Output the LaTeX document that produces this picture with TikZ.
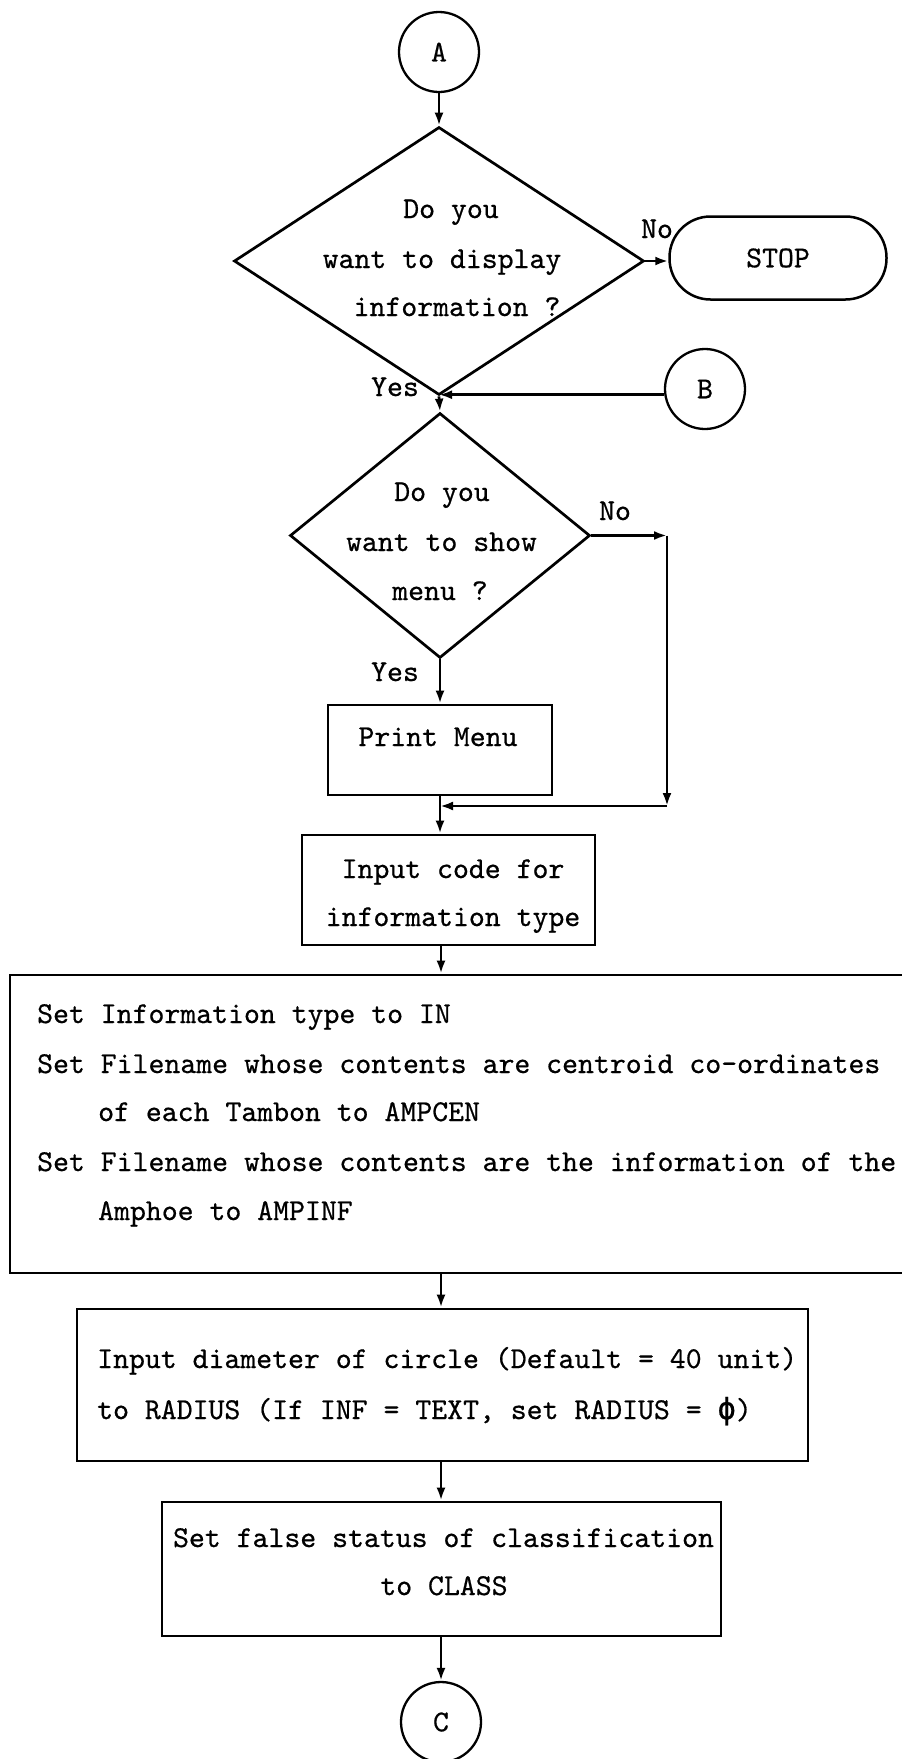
\documentclass[tikz,border=0pt]{standalone}
\usepackage{fontspec}
\newfontfamily\tyt{lmmono10-regular.otf}[FakeBold=0.6]
\newfontfamily\phifont{DejaVu Sans Mono}[FakeBold=0.6]
\usetikzlibrary{shapes.geometric,arrows.meta}
\begin{document}
\begin{tikzpicture}[x=1pt,y=-1pt,
  every node/.style={font=\tyt\fontsize{30.3}{49}\selectfont},
  arr/.style={line width=2.7pt,-{Latex[length=13pt,width=9pt]}},
  tx/.style={inner sep=0pt,anchor=base},
  txl/.style={inner sep=0pt,anchor=base west},
  conn/.style={circle,draw,line width=2.3pt,minimum size=80pt,inner sep=0pt},
  box/.style={rectangle,draw,line width=2.8pt,inner sep=0pt},
  dia/.style={diamond,draw,line width=2.7pt,inner sep=0pt}]
\useasboundingbox (0,0) rectangle (902,1759);
\clip (0,0) rectangle (902,1759);
\fill[white] (0,0) rectangle (902,1759);

% connectors
\node[conn] (A) at (439,52) {A};
\node[conn] (B) at (705,389) {B};
\node[conn] (C) at (441,1722) {C};

% decision 1
\node[dia, minimum width=410pt, minimum height=268pt] (d1) at (439,261) {};
\node[tx] (d1a) at (451,218) {Do you};
\node[tx] (d1b) at (442,268) {want to display};
\node[tx] (d1c) at (457,316) {information ?};
\node[tx] (no1) at (657,238) {No};
\node[draw,line width=2.5pt,rounded corners=41pt,minimum width=217pt,minimum height=83pt,inner sep=0pt] (stop) at (778,258) {STOP};
\node[tx] (yes1) at (395,396) {Yes};

% decision 2
\node[dia, minimum width=300pt, minimum height=245pt] (d2) at (440,535.5) {};
\node[tx] (d2a) at (442,501) {Do you};
\node[tx] (d2b) at (441.5,551) {want to show};
\node[tx] (d2c) at (440,600) {menu ?};
\node[tx] (no2) at (615,520) {No};
\node[tx] (yes2) at (395,681) {Yes};

% print menu
\node[box,minimum width=224pt,minimum height=90pt] (pm) at (440,750) {};
\node[tx] (pmt) at (438,746) {Print Menu};

% input code
\node[box,minimum width=293pt,minimum height=110pt] (inp) at (448.5,890) {};
\node[tx] (inpa) at (453,878) {Input code for};
\node[tx] (inpb) at (453,926) {information type};

% big box
\node[box,minimum width=925pt,minimum height=298pt] (big) at (472.5,1124) {};
\node[txl] (bg1) at (37,1023) {Set Information type to IN};
\node[txl] (bg2) at (37,1073) {Set Filename whose contents are centroid co-ordinates};
\node[txl] (bg3) at (98,1121) {of each Tambon to AMPCEN};
\node[txl] (bg4) at (37,1171) {Set Filename whose contents are the information of the};
\node[txl] (bg5) at (98,1220) {Amphoe to AMPINF};

% box 4
\node[box,minimum width=731pt,minimum height=152pt] (b4) at (442.5,1385) {};
\node[txl] (b4a) at (97,1368) {Input diameter of circle (Default = 40 unit)};
\node[txl] (b4b) at (97,1419) {to RADIUS (If INF = TEXT, set RADIUS = {\phifont ϕ})};

% box 5
\node[box,minimum width=559pt,minimum height=134pt] (b5) at (441.5,1569) {};
\node[tx] (b5a) at (443.5,1547) {Set false status of classification};
\node[tx] (b5b) at (444,1595) {to CLASS};

% helper coordinates
\coordinate (col) at (441,0);
\coordinate (rx) at (667,0);
\coordinate (c1) at (d2.east -| rx);
\coordinate (c2) at (667,806);
\coordinate (j2) at (c2 -| pm.south);

% arrows
\draw[arr] (A.south) -- (A.south |- d1.north);
\draw[arr] (d1.east) -- (d1.east -| stop.west);
\draw[arr] (d1.south) -- (d2.north);
\draw[arr] (B.188) -- (B.188 -| d1.south);
\draw[arr] (d2.east) -- (c1);
\draw[arr] (c1) -- (c2);
\draw[arr] (c2) -- (j2);
\draw[arr] (d2.south) -- (pm.north);
\draw[arr] (pm.south) -- (pm.south |- inp.north);
\draw[arr] (inp.south -| col) -- (big.north -| col);
\draw[arr] (big.south -| col) -- (b4.north -| col);
\draw[arr] (b4.south -| col) -- (b5.north -| col);
\draw[arr] (b5.south -| col) -- (C.north);
\end{tikzpicture}
\end{document}
